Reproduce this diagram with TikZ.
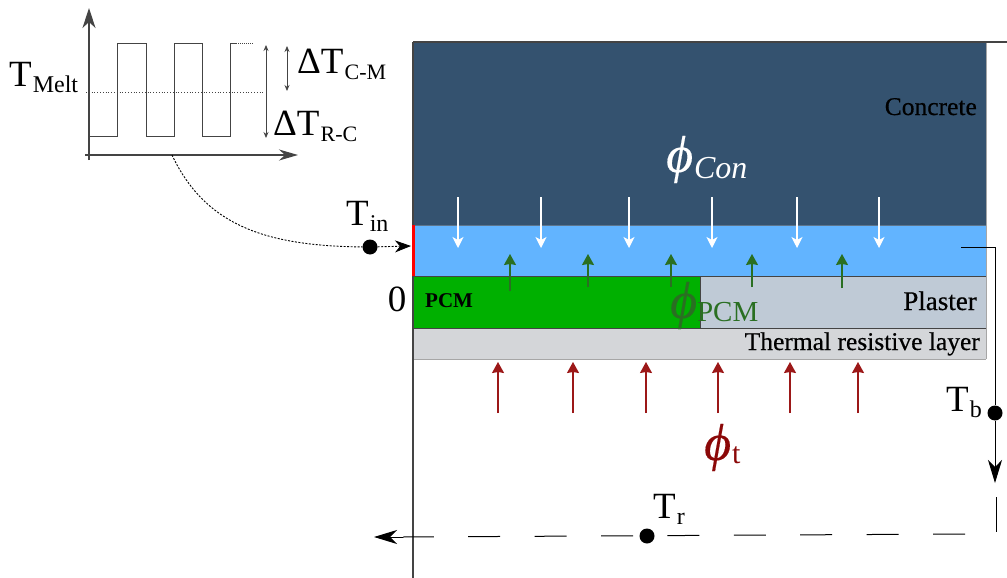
\documentclass[tikz,border=0pt]{standalone}
\usepackage{fontspec}
\setmainfont{Liberation Serif}
\newfontfamily\phif[ItalicFeatures={FakeBold=0.25}]{Liberation Serif}
\newfontfamily\semib[FakeBold=0.5]{Liberation Serif}
\usetikzlibrary{arrows.meta}
\definecolor{conc}{HTML}{34526F}
\definecolor{airb}{HTML}{62B4FF}
\definecolor{pcmg}{HTML}{00B000}
\definecolor{plas}{HTML}{BFCAD6}
\definecolor{ther}{HTML}{D4D6D9}
\definecolor{darkg}{HTML}{2A6F22}
\definecolor{darkr}{HTML}{9C1818}
\definecolor{phired}{HTML}{8B0808}
\definecolor{axisg}{HTML}{444444}
\newcommand{\Tsub}[1]{{\fontsize{37}{37}\selectfont T\kern1pt\raisebox{-6pt}{\fontsize{24}{24}\selectfont #1}}}
\newcommand{\DTsub}[1]{{\fontsize{37}{37}\selectfont ΔT\kern1pt\raisebox{-6pt}{\fontsize{22}{22}\selectfont #1}}}
\newcommand{\bigphi}{{\fontsize{52}{52}\selectfont\phif\itshape ϕ}}
\tikzset{
  x=1pt,y=-1pt,
  axisline/.style={draw=axisg,line width=1.3pt},
  tipy/.style={-{Stealth[length=20pt,width=13pt,inset=6pt]}},
  tipx/.style={-{Stealth[length=19pt,width=11pt,inset=6pt]}},
  wave/.style={draw=axisg,line width=1pt},
  updown/.style={{Stealth[length=6pt,width=5pt]}-{Stealth[length=6pt,width=5pt]},draw=axisg,line width=.8pt},
  flowwhite/.style={draw=white,line width=1.3pt,-{Stealth[length=11pt,width=11pt,inset=3pt]}},
  flowgreen/.style={draw=darkg,line width=1.3pt,-{Stealth[length=11pt,width=12pt,inset=1pt]}},
  flowred/.style={draw=darkr,line width=1.3pt,-{Stealth[length=11pt,width=12pt,inset=1pt]}},
  dotnode/.style={circle,fill=black,inner sep=0pt,minimum size=15pt},
  txt/.style={inner sep=0pt,text=black},
  layer/.style={inner sep=0pt,text=black},
}
\begin{document}
\begin{tikzpicture}
\useasboundingbox (0,0) rectangle (1007,578);
% layers
\fill[conc] (414,43) rectangle (986,225);
\fill[airb] (414,225) rectangle (986,276);
\fill[pcmg] (414,276) rectangle (700,328);
\fill[plas] (700,276) rectangle (986,328);
\fill[ther] (414,328) rectangle (986,359);
\draw[axisg,line width=.8pt] (414,276) -- (986,276) (414,328) -- (986,328) (700,276) -- (700,328);
\draw[gray!70,line width=1pt] (414,359) -- (986,359) (986,43) -- (986,359);
\draw[conc!80!white,line width=.6pt] (414,225) -- (986,225);
\draw[axisline] (413,42) -- (1007,42);
\draw[axisline] (413,42) -- (413,578);
\draw[red,line width=3pt] (413.5,225) -- (413.5,276);
% chart
\coordinate (yb) at (89,160); \coordinate (yt) at (89,8);
\coordinate (xl) at (85,155); \coordinate (xr) at (298,155);
\draw[axisline,tipy] (yb) -- (yt);
\draw[axisline,tipx] (xl) -- (xr);
\draw[wave] (89,136) -- (117.5,136) -- (117.5,43.5) -- (146,43.5) -- (146,136.5) -- (174,136.5) -- (174,43.5) -- (202,43.5) -- (202,136.5) -- (230.5,136.5) -- (230.5,44) -- (236,44);
\draw[wave,densely dotted] (236,44) -- (253,44);
\draw[axisg,line width=.8pt,dotted] (86,92.5) -- (264,92.5);
\draw[updown] (266,45) -- (266,138);
\draw[updown] (287,46) -- (287,91);
\node[txt,anchor=base west] (tmelt) at (9,86) {\Tsub{Melt}};
\node[txt,anchor=base west] (dtcm) at (297,74) {\DTsub{C-M}};
\node[txt,anchor=base west] (dtrc) at (273,135) {\DTsub{R-C}};
% inlet
\node[dotnode] (tindot) at (370,247) {};
\node[txt,anchor=base west] (tin) at (346,225) {\Tsub{in}};
\coordinate (curvestart) at (172,155);
\coordinate (inlet) at (411,246);
\draw[black,line width=.9pt,dash pattern=on 2pt off 1.5pt] (curvestart) .. controls (205,225) and (265,246) .. (tindot);
\draw[black,line width=.9pt,dash pattern=on 2pt off 1.5pt,-{Stealth[length=16pt,width=12pt,inset=5pt]}] (tindot) -- (inlet);
% labels in layers
\node[layer,anchor=base east,font=\fontsize{25.5}{26}\selectfont\semib] (concrete) at (977,115) {Concrete};
\node[layer,anchor=base west,font=\fontsize{21}{21}\selectfont\bfseries] (pcm) at (425,307) {PCM};
\node[layer,anchor=base east,font=\fontsize{27}{27}\selectfont\semib] (plaster) at (977,310) {Plaster};
\node[layer,anchor=base east,font=\fontsize{25.5}{26}\selectfont\semib] (thermal) at (980,350) {Thermal resistive layer};
\node[txt,anchor=base west,text=white] (phicon) at (666,172) {\bigphi\kern1pt\raisebox{-6pt}{\fontsize{32}{32}\selectfont\itshape Con}};
\node[txt,anchor=base west,text=darkg] (phipcm) at (670,318) {\bigphi\kern0pt\raisebox{-3pt}{\fontsize{29}{29}\selectfont PCM}};
\node[txt,anchor=base west,text=phired] (phit) at (704,460) {\bigphi\kern1pt\raisebox{-3pt}{\fontsize{30}{30}\selectfont t}};
\node[txt,anchor=base] (zero) at (397,311) {\fontsize{37}{37}\selectfont 0};
% flows
\foreach \nm/\fx in {a/458,b/541,c/629,d/712,e/797,f/879}{
  \coordinate (w\nm t) at (\fx,197); \coordinate (w\nm b) at (\fx,248);
  \draw[flowwhite] (w\nm t) -- (w\nm b);}
\foreach \nm/\fx/\fy in {a/510/291,b/588/287,c/671/287,d/752/287,e/842/288}{
  \coordinate (g\nm b) at (\fx,\fy); \coordinate (g\nm t) at (\fx,254);
  \draw[flowgreen] (g\nm b) -- (g\nm t);}
\foreach \nm/\fx in {a/498,b/573,c/646,d/718,e/790,f/858}{
  \coordinate (r\nm b) at (\fx,413); \coordinate (r\nm t) at (\fx,362);
  \draw[flowred] (r\nm b) -- (r\nm t);}
% return loop
\coordinate (bs) at (961,247); \coordinate (bc) at (995,247); \coordinate (be) at (995,483);
\node[dotnode] (tbdot) at (995,413) {};
\node[txt,anchor=base west] (tb) at (946,411) {\Tsub{b}};
\draw[black,line width=1pt] (bs) -- (bc) -- (tbdot);
\draw[black,line width=1pt,-{Stealth[length=23pt,width=14pt,inset=7pt]}] (tbdot) -- (be);
\coordinate (ds) at (996,497); \coordinate (de) at (996,532);
\draw[black,line width=1pt] (ds) -- (de);
\coordinate (rs) at (965,534); \coordinate (rm) at (403,537); \coordinate (re) at (374,537);
\draw[black,line width=1pt,dash pattern=on 32pt off 34.4pt] (rs) -- (rm);
\draw[black,line width=1pt,-{Stealth[length=23pt,width=14pt,inset=7pt]}] (rm) -- (re);
\node[dotnode,minimum size=15pt] (trdot) at (647,536) {};
\node[txt,anchor=base west] (tr) at (653,518) {\Tsub{r}};
\end{tikzpicture}
\end{document}
